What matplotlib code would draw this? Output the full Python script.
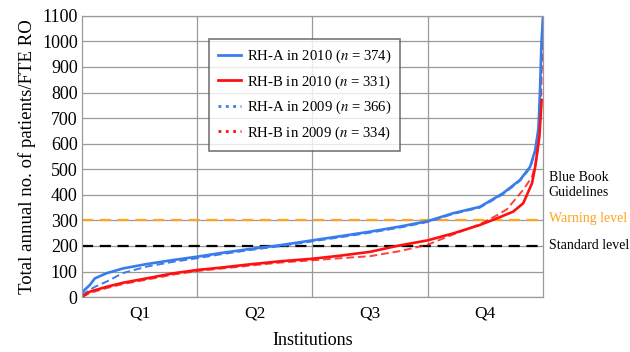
import numpy as np
import matplotlib.pyplot as plt
from matplotlib.lines import Line2D

plt.rcParams['font.family'] = ['Liberation Serif', 'DejaVu Serif']
plt.rcParams['mathtext.fontset'] = 'stix'

# institutions ranked by workload, position as fraction of all institutions
rha_2010_x = [0.0, 0.004, 0.017, 0.028, 0.053, 0.089, 0.14, 0.198, 0.25, 0.30, 0.36, 0.43, 0.50,
              0.56, 0.625, 0.69, 0.75, 0.805, 0.863, 0.913, 0.95, 0.972, 0.983, 0.990, 0.993,
              0.9965, 1.0]
rha_2010_y = [8, 25, 47, 73, 93, 112, 129, 145, 158, 172, 187, 203, 222,
              238, 256, 276, 297, 328, 353, 406, 458, 510, 575, 660, 786,
              994, 1100]

rhb_2010_x = [0.0, 0.017, 0.053, 0.089, 0.14, 0.198, 0.25, 0.30, 0.364, 0.43, 0.50,
              0.56, 0.625, 0.683, 0.75, 0.805, 0.863, 0.90, 0.935, 0.957, 0.976,
              0.983, 0.988, 0.992, 0.997]
rhb_2010_y = [0, 21, 40, 56, 73, 93, 106, 115, 128, 140, 150,
              162, 177, 200, 222, 249, 282, 308, 334, 367, 445,
              510, 575, 627, 771]

rha_2009_x = [0.0, 0.01, 0.028, 0.053, 0.089, 0.14, 0.198, 0.25, 0.30, 0.36, 0.43, 0.50,
              0.56, 0.625, 0.69, 0.75, 0.805, 0.863, 0.913, 0.95, 0.972, 0.983, 0.990,
              0.994, 1.0]
rha_2009_y = [5, 20, 40, 60, 94, 119, 138, 152, 167, 183, 199, 218,
              234, 252, 272, 294, 325, 350, 402, 455, 505, 570, 650,
              800, 1100]

rhb_2009_x = [0.0, 0.017, 0.053, 0.089, 0.14, 0.198, 0.25, 0.30, 0.364, 0.43, 0.50,
              0.56, 0.625, 0.69, 0.75, 0.805, 0.863, 0.90, 0.922, 0.957, 0.976,
              0.985, 0.990, 0.995, 1.0]
rhb_2009_y = [0, 16, 35, 51, 68, 88, 102, 111, 123, 135, 144,
              152, 160, 180, 205, 245, 285, 320, 344, 420, 470,
              530, 600, 720, 1100]

labels = ['RH-A in 2010 ($n$ = 374)', 'RH-B in 2010 ($n$ = 331)',
          'RH-A in 2009 ($n$ = 366)', 'RH-B in 2009 ($n$ = 334)']
quartiles = ['Q1', 'Q2', 'Q3', 'Q4']
warning_level = 300
standard_level = 200

blue = '#3a7cec'
red = '#ff1010'
orange = '#ffa41c'

fig = plt.figure(figsize=(6.3, 3.52), dpi=100)
ax = fig.add_axes([0.130, 0.156, 0.732, 0.799])

ax.plot(rha_2009_x, rha_2009_y, color=blue, lw=1.4, dashes=(4, 2))
ax.plot(rhb_2009_x, rhb_2009_y, color=red, lw=1.4, dashes=(4, 2), alpha=0.8)
ax.plot(rha_2010_x, rha_2010_y, color=blue, lw=1.9)
ax.plot(rhb_2010_x, rhb_2010_y, color=red, lw=1.9)

ax.axhline(warning_level, color=orange, lw=1.6, dashes=(5, 3), zorder=1.5)
ax.axhline(standard_level, color='black', lw=1.6, dashes=(5, 3), zorder=1.5)

ax.set_xlim(0, 1)
ax.set_ylim(0, 1100)
ax.set_yticks(np.arange(0, 1101, 100))
ax.set_xticks([0.25, 0.5, 0.75])
ax.set_xticklabels([])
ax.tick_params(axis='both', length=0, labelsize=13, pad=3)
ax.grid(True, color='#9a9a9a', lw=0.9)
ax.set_axisbelow(True)
for s in ax.spines.values():
    s.set_color('#9a9a9a')
    s.set_linewidth(0.9)

for i, q in enumerate(quartiles):
    ax.text(0.125 + 0.25 * i, -0.03, q, transform=ax.transAxes,
            ha='center', va='top', fontsize=12.5)
ax.text(0.5, -0.125, 'Institutions', transform=ax.transAxes,
        ha='center', va='top', fontsize=13)
ax.set_ylabel('Total annual no. of patients/FTE RO', fontsize=13.5, labelpad=4)

ax.text(1.012, 440, 'Blue Book\nGuidelines', fontsize=10, va='center',
        ha='left', linespacing=1.2, transform=ax.get_yaxis_transform(), clip_on=False)
ax.text(1.012, 308, 'Warning level', fontsize=10, color=orange, va='center',
        ha='left', transform=ax.get_yaxis_transform(), clip_on=False)
ax.text(1.012, 200, 'Standard level', fontsize=10, va='center',
        ha='left', transform=ax.get_yaxis_transform(), clip_on=False)

handles = [Line2D([], [], color=blue, lw=2),
           Line2D([], [], color=red, lw=2),
           Line2D([], [], color=blue, lw=2, ls=':'),
           Line2D([], [], color=red, lw=2, ls=':')]
leg = ax.legend(handles, labels, loc='upper left', bbox_to_anchor=(0.275, 0.917),
                fontsize=10.6, frameon=True, fancybox=False, shadow=False,
                handlelength=1.6, handletextpad=0.4, borderpad=0.6,
                labelspacing=0.55, borderaxespad=0)
leg.get_frame().set_edgecolor('#555555')
leg.get_frame().set_linewidth(1.2)

fig.savefig('out.png', dpi=100)
